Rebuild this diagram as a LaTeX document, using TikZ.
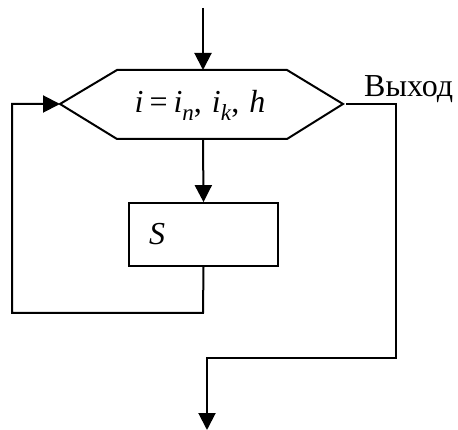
\documentclass[tikz,border=0pt]{standalone}
\usepackage{fontspec}
\setmainfont{Liberation Serif}
\usetikzlibrary{arrows.meta}
\begin{document}
\begin{tikzpicture}[x=1pt,y=1pt,
  line/.style={line width=2pt},
  arr/.style={line width=2pt,-{Triangle[width=17pt,length=17pt]}},
  lbl/.style={font=\fontsize{32}{36}\selectfont,inner sep=0pt}]
\useasboundingbox (0,0) rectangle (458,-430);
% hexagon
\coordinate (hL) at (60,-104);
\coordinate (hTL) at (117,-70);
\coordinate (hTR) at (287,-70);
\coordinate (hR) at (343,-104);
\coordinate (hBR) at (287,-139);
\coordinate (hBL) at (117,-139);
\draw[line,line join=miter] (hL) -- (hTL) -- (hTR) -- (hR) -- (hBR) -- (hBL) -- cycle;
\coordinate (hT) at (203,-70);
\coordinate (hB) at (203,-139);
\node[lbl,anchor=base] (htext) at (200,-113)
  {\textit{i}\hspace{6pt}=\hspace{6pt}\textit{i}\raisebox{-0.25em}{\fontsize{23}{24}\selectfont\textit{n}},\hspace{10pt}\textit{i}\raisebox{-0.25em}{\fontsize{23}{24}\selectfont\textit{k}},\hspace{10pt}\textit{h}};
% box
\node[draw,line width=1.8pt,minimum width=149pt,minimum height=63pt,inner sep=0pt] (box) at (203.5,-234.5) {};
\node[lbl,anchor=base] (S) at (157,-245) {\textit{S}};
% exit label
\node[lbl,anchor=base west] (exit) at (364,-97) {Выход};
% start
\coordinate (start) at (203,-8);
\draw[arr] (start) -- (hT);
\draw[arr] (hB) -- (box.north);
% loop back
\coordinate (lb1) at (203,-313);
\coordinate (lb2) at (12,-313);
\coordinate (lb3) at (12,-104);
\draw[arr,line join=miter] (box.south) -- (lb1) -- (lb2) -- (lb3) -- (hL);
% exit path
\coordinate (e0) at (346,-104);
\coordinate (e1) at (396,-104);
\coordinate (e2) at (396,-358);
\coordinate (e3) at (207,-358);
\coordinate (e4) at (207,-430);
\draw[arr,line join=miter] (e0) -- (e1) -- (e2) -- (e3) -- (e4);
\end{tikzpicture}
\end{document}
